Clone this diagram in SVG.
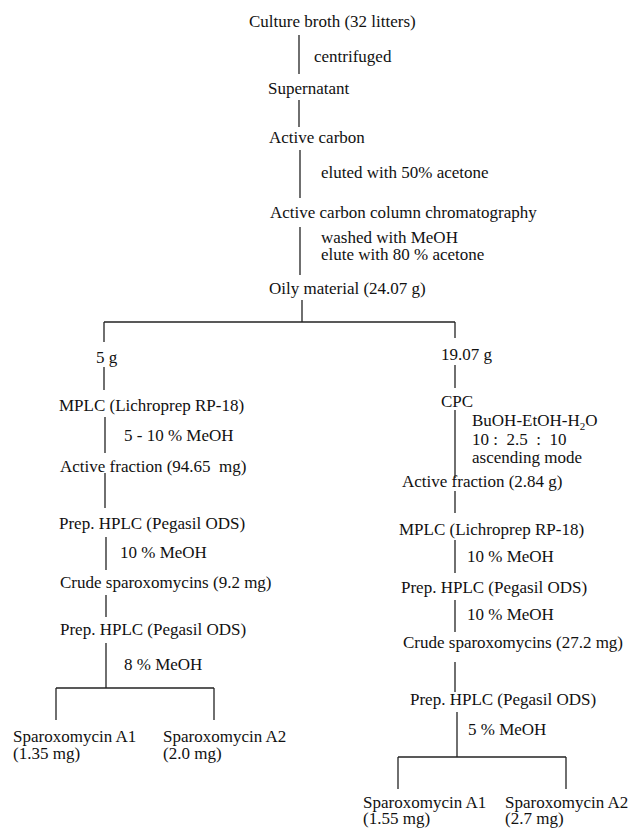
<svg xmlns="http://www.w3.org/2000/svg" width="641" height="828" viewBox="0 0 641 828">
<style>
text{font-family:"Liberation Serif","Times New Roman",serif;font-size:17px;fill:#111}
.c line{stroke:#222;stroke-width:1.3;fill:none}
.sub{font-size:11px}
</style>
<rect width="641" height="828" fill="#fff"/>
<g class="c" id="connectors">
<line x1="299" y1="35" x2="299" y2="74"/>
<line x1="299" y1="100" x2="299" y2="127"/>
<line x1="300" y1="150" x2="300" y2="198"/>
<line x1="300" y1="227" x2="300" y2="275"/>
<line x1="302" y1="300" x2="302" y2="322"/>
<line x1="104" y1="322" x2="455" y2="322"/>
<line x1="104" y1="322" x2="104" y2="342"/>
<line x1="455" y1="322" x2="455" y2="338"/>
<line x1="104" y1="367" x2="104" y2="390"/>
<line x1="105" y1="417" x2="105" y2="453"/>
<line x1="105" y1="473" x2="105" y2="508"/>
<line x1="106" y1="537" x2="106" y2="570"/>
<line x1="106" y1="595" x2="106" y2="617"/>
<line x1="106" y1="643" x2="106" y2="688"/>
<line x1="56" y1="688" x2="214" y2="688"/>
<line x1="56" y1="688" x2="56" y2="720"/>
<line x1="214" y1="688" x2="214" y2="720"/>
<line x1="455" y1="365" x2="455" y2="388"/>
<line x1="455" y1="410" x2="455" y2="478"/>
<line x1="455" y1="491" x2="455" y2="513"/>
<line x1="455" y1="540" x2="455" y2="573"/>
<line x1="455" y1="600" x2="455" y2="632"/>
<line x1="455" y1="662" x2="455" y2="692"/>
<line x1="457" y1="712" x2="457" y2="757"/>
<line x1="398" y1="757" x2="566" y2="757"/>
<line x1="398" y1="757" x2="398" y2="789"/>
<line x1="566" y1="757" x2="566" y2="789"/>
</g>
<g id="labels">
<text x="314" y="62">centrifuged</text>
<text x="321" y="178">eluted with 50% acetone</text>
<text x="321" y="243">washed with MeOH</text>
<text x="321" y="260">elute with 80 % acetone</text>
<text x="124" y="441">5 - 10 % MeOH</text>
<text x="120" y="558">10 % MeOH</text>
<text x="124" y="670">8 % MeOH</text>
<text x="472" y="426">BuOH-EtOH-H<tspan class="sub" dy="4">2</tspan><tspan dy="-4">O</tspan></text>
<text x="472" y="445" xml:space="preserve">10 :  2.5  :  10</text>
<text x="472" y="463">ascending mode</text>
<text x="467" y="562">10 % MeOH</text>
<text x="467" y="620">10 % MeOH</text>
<text x="468" y="735">5 % MeOH</text>
</g>
<g id="n-broth"><text x="249" y="27">Culture broth (32 litters)</text></g>
<g id="n-super"><text x="268" y="94">Supernatant</text></g>
<g id="n-carbon"><text x="269" y="143">Active carbon</text></g>
<g id="n-column"><text x="270" y="218">Active carbon column chromatography</text></g>
<g id="n-oily"><text x="269" y="294">Oily material (24.07 g)</text></g>
<g id="n-5g"><text x="96" y="363">5 g</text></g>
<g id="n-mplc-l"><text x="59" y="411">MPLC (Lichroprep RP-18)</text></g>
<g id="n-af-l"><text x="60" y="472" xml:space="preserve">Active fraction (94.65  mg)</text></g>
<g id="n-hplc-l1"><text x="59" y="529">Prep. HPLC (Pegasil ODS)</text></g>
<g id="n-crude-l"><text x="60" y="588">Crude sparoxomycins (9.2 mg)</text></g>
<g id="n-hplc-l2"><text x="60" y="635">Prep. HPLC (Pegasil ODS)</text></g>
<g id="n-a1-l"><text x="13" y="742">Sparoxomycin A1</text><text x="13" y="759">(1.35 mg)</text></g>
<g id="n-a2-l"><text x="163" y="742">Sparoxomycin A2</text><text x="163" y="759">(2.0 mg)</text></g>
<g id="n-19g"><text x="441" y="360">19.07 g</text></g>
<g id="n-cpc"><text x="441" y="407">CPC</text></g>
<g id="n-af-r"><text x="402" y="487">Active fraction (2.84 g)</text></g>
<g id="n-mplc-r"><text x="399" y="535">MPLC (Lichroprep RP-18)</text></g>
<g id="n-hplc-r1"><text x="401" y="593">Prep. HPLC (Pegasil ODS)</text></g>
<g id="n-crude-r"><text x="403" y="648">Crude sparoxomycins (27.2 mg)</text></g>
<g id="n-hplc-r2"><text x="410" y="705">Prep. HPLC (Pegasil ODS)</text></g>
<g id="n-a1-r"><text x="363" y="808">Sparoxomycin A1</text><text x="363" y="824">(1.55 mg)</text></g>
<g id="n-a2-r"><text x="505" y="808">Sparoxomycin A2</text><text x="505" y="824">(2.7 mg)</text></g>
</svg>
